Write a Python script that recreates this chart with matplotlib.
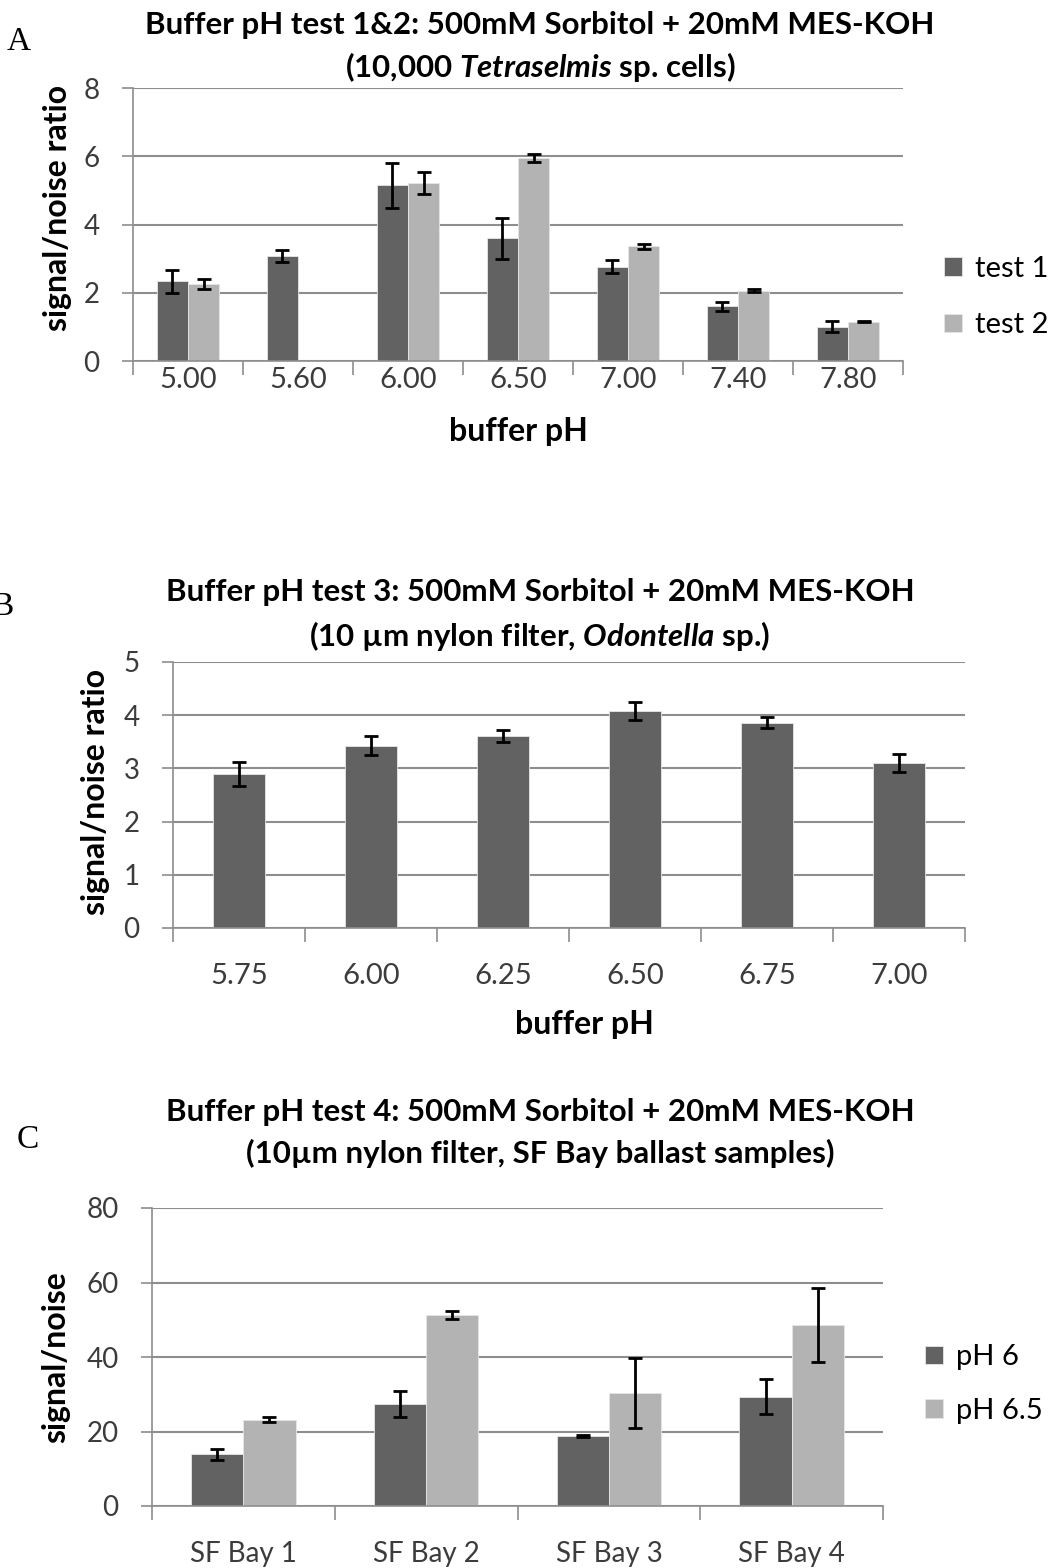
import numpy as np
import matplotlib
matplotlib.use("Agg")
import matplotlib.pyplot as plt
from matplotlib.ticker import FixedLocator, NullFormatter

plt.rcParams['font.family'] = ['Lato', 'DejaVu Sans']
plt.rcParams['mathtext.fontset'] = 'custom'
plt.rcParams['mathtext.it'] = 'Lato:italic:bold'
plt.rcParams['mathtext.rm'] = 'Lato:bold'

# test 1 & 2 : Tetraselmis
ph_a = ['5.00', '5.60', '6.00', '6.50', '7.00', '7.40', '7.80']
test1 = [2.33, 3.07, 5.15, 3.60, 2.76, 1.60, 1.01]
test1_err = [0.34, 0.17, 0.66, 0.60, 0.19, 0.13, 0.15]
test2 = [2.26, np.nan, 5.21, 5.94, 3.36, 2.06, 1.15]
test2_err = [0.14, np.nan, 0.33, 0.12, 0.07, 0.05, 0.02]

# test 3 : Odontella
ph_b = ['5.75', '6.00', '6.25', '6.50', '6.75', '7.00']
test3 = [2.89, 3.43, 3.61, 4.08, 3.86, 3.11]
test3_err = [0.23, 0.18, 0.12, 0.17, 0.10, 0.17]

# test 4 : ballast samples
bays = ['SF Bay 1', 'SF Bay 2', 'SF Bay 3', 'SF Bay 4']
ph6 = [13.9, 27.3, 18.7, 29.3]
ph6_err = [1.5, 3.5, 0.3, 4.7]
ph65 = [23.2, 51.3, 30.3, 48.6]
ph65_err = [0.7, 1.1, 9.4, 10.0]

DARK = '#626262'
LIGHT = '#b3b3b3'
GRID = '#8e8e8e'
TXT = '#3c3c3c'
W, H = 1053, 1568
TITLE_SIZE = 22.5
LABEL_SIZE = 23


def px(x, y):
    return x / W, 1 - y / H


def box(l, t, r, b):
    return [l / W, 1 - b / H, (r - l) / W, (b - t) / H]


def style_axes(ax, labels, ymax, ystep, xpad, xsize):
    n = len(labels)
    ax.set_xlim(-0.5, n - 0.5)
    ax.set_ylim(0, ymax)
    ax.set_yticks(np.arange(0, ymax + ystep / 2, ystep))
    ax.set_xticks(range(n))
    ax.set_xticklabels(labels)
    ax.xaxis.set_minor_locator(FixedLocator(np.arange(-0.5, n, 1.0)))
    ax.xaxis.set_minor_formatter(NullFormatter())
    ax.tick_params(axis='x', which='major', length=0, pad=xpad, labelsize=xsize, labelcolor=TXT)
    ax.tick_params(axis='x', which='minor', length=10, width=1.2, color=GRID)
    ax.tick_params(axis='y', length=8, width=1.2, color=GRID, pad=16, labelsize=20, labelcolor=TXT)
    ax.grid(axis='y', color=GRID, linewidth=1.5)
    ax.set_axisbelow(True)
    for s in ['top', 'right']:
        ax.spines[s].set_visible(False)
    for s in ['left', 'bottom']:
        ax.spines[s].set_color(GRID)
        ax.spines[s].set_linewidth(1.2)


def bars(ax, x, vals, errs, color, width):
    b = ax.bar(x, vals, width, color=color, edgecolor='#e6e6e6', linewidth=0.6, zorder=2)
    ax.errorbar(x, vals, yerr=errs, fmt='none', ecolor='black', elinewidth=2,
                capsize=5, capthick=2, zorder=3)
    return b


def legend(ax, handles, names, x, y, spacing):
    ax.legend(handles, names, loc='center left', bbox_to_anchor=px(x, y),
              bbox_transform=fig.transFigure, frameon=False, fontsize=21,
              handlelength=0.6, handleheight=0.6, handletextpad=0.45,
              labelspacing=spacing, borderpad=0, borderaxespad=0)


def title(lines, y1, y2):
    fig.text(*px(540, y1), lines[0], ha='center', va='center',
             fontsize=TITLE_SIZE, fontweight='bold')
    fig.text(*px(540, y2), lines[1], ha='center', va='center',
             fontsize=TITLE_SIZE, fontweight='bold')


fig = plt.figure(figsize=(W / 100, H / 100), dpi=100)

# --- A ---
ax1 = fig.add_axes(box(133, 88, 903, 361))
x = np.arange(len(ph_a))
w = 1 / 3.5
b1 = bars(ax1, x - w / 2, test1, test1_err, DARK, w)
b2 = bars(ax1, x + w / 2, test2, test2_err, LIGHT, w)
style_axes(ax1, ph_a, 8, 2, 4, 21)
ax1.set_ylabel('signal/noise ratio', fontsize=LABEL_SIZE, fontweight='bold')
ax1.yaxis.set_label_coords(-0.079, 0.56)
ax1.set_xlabel('buffer pH', fontsize=LABEL_SIZE, fontweight='bold')
ax1.xaxis.set_label_coords(0.5, -0.205)
legend(ax1, [b1, b2], ['test 1', 'test 2'], 944, 297, 1.05)
title(['Buffer pH test 1&2: 500mM Sorbitol + 20mM MES-KOH',
       '(10,000 $Tetraselmis$ sp. cells)'], 25, 67)
fig.text(*px(19, 42), 'A', ha='center', va='center', fontsize=24, family='Liberation Serif')

# --- B ---
ax2 = fig.add_axes(box(173, 662, 965, 928))
x = np.arange(len(ph_b))
bars(ax2, x, test3, test3_err, DARK, 0.4)
style_axes(ax2, ph_b, 5, 1, 25, 21)
ax2.set_ylabel('signal/noise ratio', fontsize=LABEL_SIZE, fontweight='bold')
ax2.yaxis.set_label_coords(-0.080, 0.51)
ax2.set_xlabel('buffer pH', fontsize=LABEL_SIZE, fontweight='bold')
ax2.xaxis.set_label_coords(0.52, -0.31)
title(['Buffer pH test 3: 500mM Sorbitol + 20mM MES-KOH',
       '(10 µm nylon filter, $Odontella$ sp.)'], 592, 636)
fig.text(*px(-9, 607), 'B', ha='left', va='center', fontsize=24, family='Liberation Serif')

# --- C ---
ax3 = fig.add_axes(box(152, 1208, 883, 1506))
x = np.arange(len(bays))
b3 = bars(ax3, x - w / 2, ph6, ph6_err, DARK, w)
b4 = bars(ax3, x + w / 2, ph65, ph65_err, LIGHT, w)
style_axes(ax3, bays, 80, 20, 25, 20)
ax3.set_ylabel('signal/noise', fontsize=LABEL_SIZE, fontweight='bold')
ax3.yaxis.set_label_coords(-0.112, 0.5)
legend(ax3, [b3, b4], ['pH 6', 'pH 6.5'], 925, 1384, 0.95)
title(['Buffer pH test 4: 500mM Sorbitol + 20mM MES-KOH',
       '(10µm nylon filter, SF Bay ballast samples)'], 1112, 1153)
fig.text(*px(28, 1140), 'C', ha='center', va='center', fontsize=24, family='Liberation Serif')

fig.savefig('out.png', dpi=100)
